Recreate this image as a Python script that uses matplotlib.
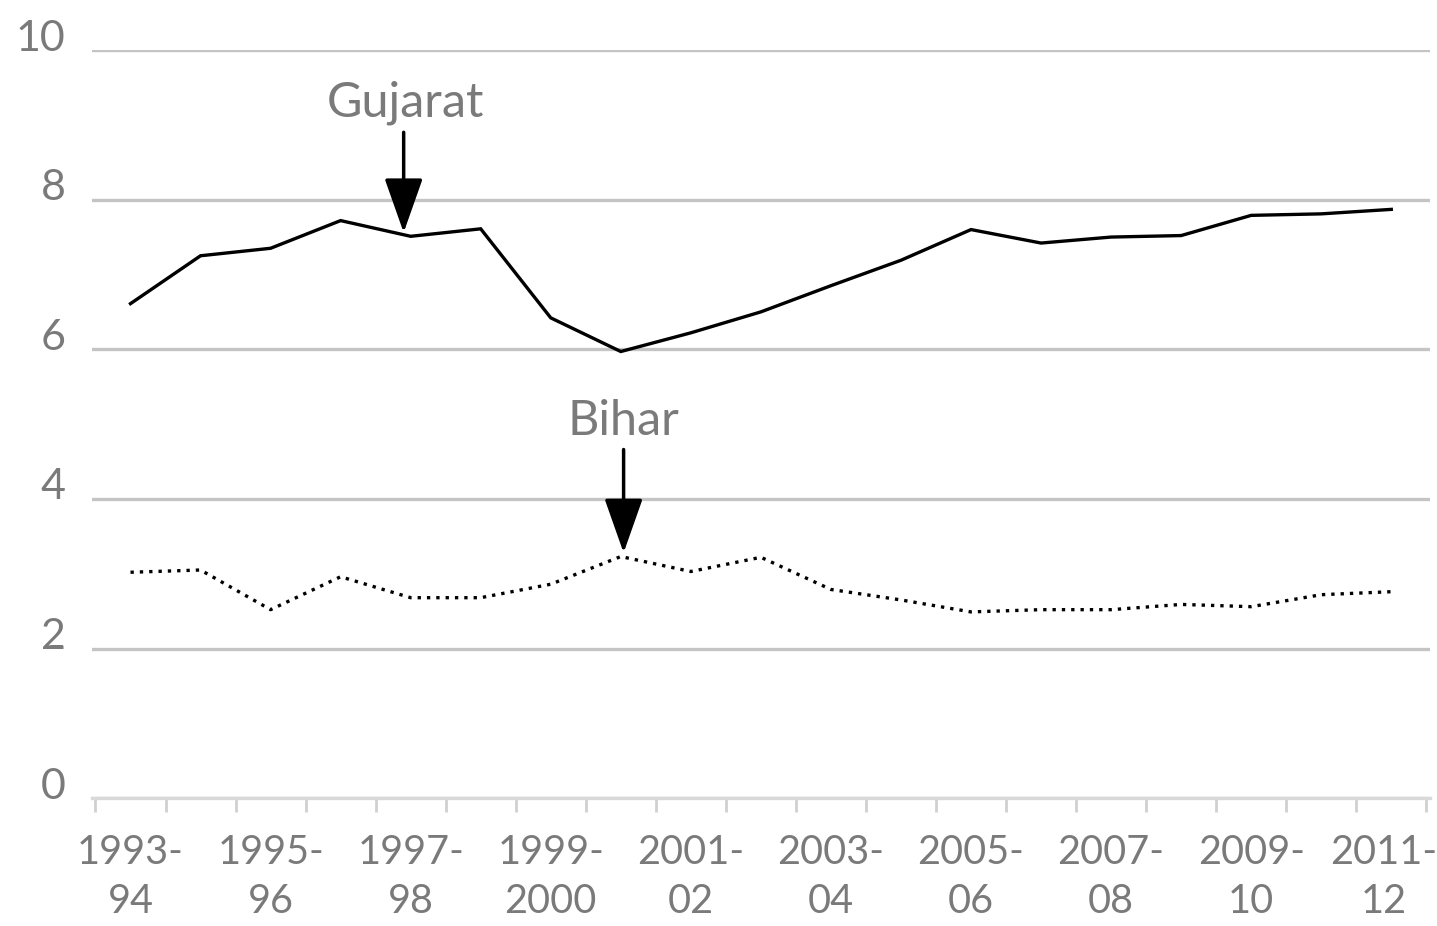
import matplotlib
matplotlib.use("Agg")
import matplotlib.pyplot as plt
import matplotlib.transforms as mtransforms
from matplotlib import font_manager

# ---- data ----
years = ["1993-94", "1994-95", "1995-96", "1996-97", "1997-98", "1998-99",
         "1999-2000", "2000-01", "2001-02", "2002-03", "2003-04", "2004-05",
         "2005-06", "2006-07", "2007-08", "2008-09", "2009-10", "2010-11", "2011-12"]
gujarat = [6.61, 7.25, 7.35, 7.72, 7.51, 7.61, 6.42, 5.97, 6.22, 6.50,
           6.85, 7.19, 7.60, 7.42, 7.50, 7.52, 7.79, 7.81, 7.87]
bihar = [3.02, 3.05, 2.52, 2.96, 2.68, 2.68, 2.86, 3.23, 3.03, 3.22,
         2.79, 2.65, 2.49, 2.52, 2.52, 2.59, 2.56, 2.72, 2.76]
tick_labels = ["1993-\n94", "1995-\n96", "1997-\n98", "1999-\n2000", "2001-\n02",
               "2003-\n04", "2005-\n06", "2007-\n08", "2009-\n10", "2011-\n12"]
y_ticks = [0, 2, 4, 6, 8, 10]

available = {f.name for f in font_manager.fontManager.ttflist}
family = "Lato" if "Lato" in available else "DejaVu Sans"
plt.rcParams["font.family"] = [family, "DejaVu Sans"]

fig = plt.figure(figsize=(14.37, 9.26), dpi=100)
ax = fig.add_axes([0.064, 0.138, 0.931, 0.808])

x = list(range(len(years)))
ax.plot(x, gujarat, color="black", lw=2.4, solid_joinstyle="miter", zorder=3)
ax.plot(x, bihar, color="black", lw=2.4, linestyle=(0, (1.0, 1.8)), zorder=3)

ax.set_xlim(-0.55, len(years) - 0.45)
ax.set_ylim(0, 10)

# gridlines
ax.set_yticks(y_ticks)
ax.yaxis.grid(True, color="#c4c4c4", lw=2.4)
ax.set_axisbelow(True)

for s in ["top", "right", "left"]:
    ax.spines[s].set_visible(False)
ax.spines["bottom"].set_color("#d9d9d9")
ax.spines["bottom"].set_linewidth(2.4)

ax.tick_params(axis="y", length=0, pad=19, labelsize=31, labelcolor="#7a7a7a")
off = mtransforms.ScaledTranslation(0, 0.15, fig.dpi_scale_trans)
for lab in ax.get_yticklabels():
    lab.set_transform(lab.get_transform() + off)

ax.set_xticks(x[::2])
ax.set_xticklabels(tick_labels, linespacing=1.38)
ax.set_xticks([i - 0.5 for i in range(len(years) + 1)], minor=True)
ax.tick_params(axis="x", which="major", length=0, pad=26, labelsize=28.5,
               labelcolor="#7a7a7a")
ax.tick_params(axis="x", which="minor", length=10, width=2, color="#d0d0d0")
last = ax.get_xticklabels()[-1]
last.set_transform(last.get_transform() +
                   mtransforms.ScaledTranslation(-0.08, 0, fig.dpi_scale_trans))

# annotations
ax.annotate("", xy=(3.9, 7.56), xytext=(3.9, 8.9),
            arrowprops=dict(arrowstyle="-|>,head_length=1.7,head_width=0.6",
                            mutation_scale=20, color="black", lw=2.5,
                            shrinkA=0, shrinkB=0), zorder=4)
ax.text(3.93, 9.29, "Gujarat", ha="center", va="center", fontsize=35,
        color="#7a7a7a")
ax.annotate("", xy=(7.04, 3.28), xytext=(7.04, 4.66),
            arrowprops=dict(arrowstyle="-|>,head_length=1.7,head_width=0.6",
                            mutation_scale=20, color="black", lw=2.5,
                            shrinkA=0, shrinkB=0), zorder=4)
ax.text(7.03, 5.04, "Bihar", ha="center", va="center", fontsize=35,
        color="#7a7a7a")

fig.savefig("out.png", dpi=100, facecolor="white")
